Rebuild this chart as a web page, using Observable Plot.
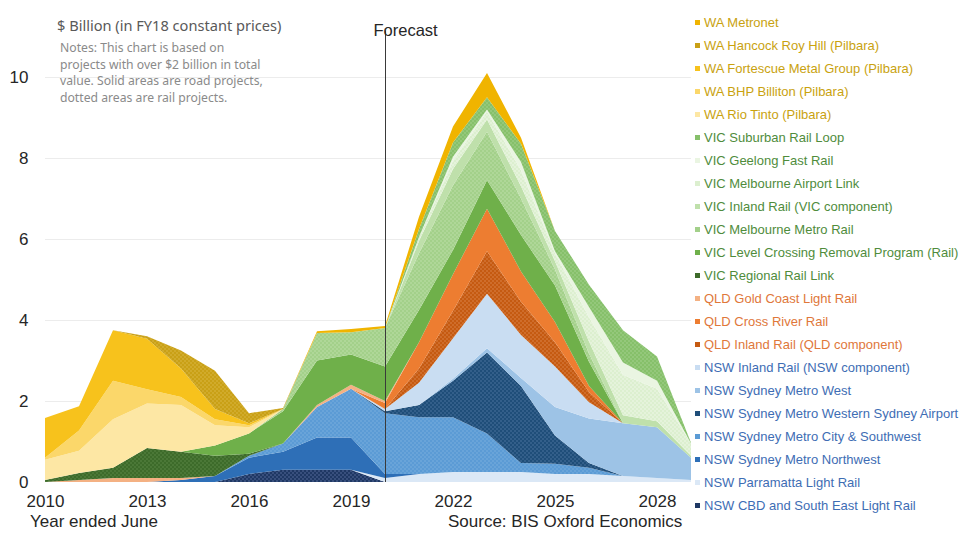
<!DOCTYPE html>
<html>
<head>
<meta charset="utf-8">
<script src="https://cdn.jsdelivr.net/npm/d3@7"></script>
<script src="https://cdn.jsdelivr.net/npm/@observablehq/plot@0.6"></script>
<style>
  body { margin: 0; background: #ffffff; }
  #wrap { position: relative; width: 966px; height: 535px; overflow: hidden; font-family: "Liberation Sans", Arial, sans-serif; }
  #wrap svg.plot { position: absolute; left: 0; top: 0; }
  .title { position: absolute; left: 57px; top: 15px; font-family: "Noto Sans", sans-serif; font-size: 14.6px; color: #595959; }
  .notes { position: absolute; left: 60px; top: 40px; font-family: "Noto Sans", sans-serif; font-size: 12.2px; line-height: 16.6px; color: #8a8a8a; }
  .foot { position: absolute; top: 512px; font-size: 17px; color: #262626; }
  .legend { position: absolute; left: 695px; top: 12px; font-size: 13px; }
  .legend div { height: 23px; line-height: 21px; white-space: nowrap; }
  .legend i { display: inline-block; width: 5px; height: 5px; margin-right: 4px; vertical-align: 2px; }
</style>
</head>
<body>
<div id="wrap"></div>
<script>
// Capital spending per project, $ billion (FY18 constant prices), year ended June
const years = [2010, 2011, 2012, 2013, 2014, 2015, 2016, 2017, 2018, 2019,
               2020, 2021, 2022, 2023, 2024, 2025, 2026, 2027, 2028, 2029];
const forecastStart = 2020;
const xTicks = [2010, 2013, 2016, 2019, 2022, 2025, 2028];
const yTicks = [0, 2, 4, 6, 8, 10];

// Series, bottom of the stack first
const nswCbd           = [0, 0, 0, 0, 0, 0, 0.2, 0.3, 0.3, 0.3, 0, 0, 0, 0, 0, 0, 0, 0, 0, 0];
const nswParramatta    = [0, 0, 0, 0, 0, 0, 0, 0, 0, 0, 0.1, 0.2, 0.25, 0.25, 0.25, 0.2, 0.2, 0.15, 0.1, 0.05];
const nswNorthwest     = [0, 0, 0, 0, 0.05, 0.15, 0.4, 0.45, 0.8, 0.8, 0.1, 0, 0, 0, 0, 0, 0, 0, 0, 0];
const nswCitySouthwest = [0, 0, 0, 0, 0, 0, 0.05, 0.2, 0.75, 1.2, 1.5, 1.4, 1.35, 0.95, 0.22, 0.25, 0.15, 0, 0, 0];
const nswWsAirport     = [0, 0, 0, 0, 0, 0, 0, 0, 0, 0, 0.05, 0.3, 0.9, 2.0, 1.9, 0.7, 0.12, 0, 0, 0];
const nswMetroWest     = [0, 0, 0, 0, 0, 0, 0, 0, 0, 0, 0, 0, 0.05, 0.1, 0.2, 0.7, 1.1, 1.3, 1.25, 0.55];
const nswInland        = [0, 0, 0, 0, 0, 0, 0, 0, 0, 0, 0.05, 0.55, 1.0, 1.35, 1.06, 1.0, 0.4, 0, 0, 0];
const qldInland        = [0, 0, 0, 0, 0, 0, 0, 0, 0, 0, 0, 0.35, 0.68, 1.05, 0.82, 0.6, 0.25, 0, 0, 0];
const qldCrossRiver    = [0, 0, 0, 0, 0, 0, 0, 0, 0, 0, 0.15, 0.65, 0.9, 1.05, 0.75, 0.5, 0.15, 0, 0, 0];
const qldGoldCoast     = [0, 0.05, 0.1, 0.1, 0.05, 0, 0, 0, 0.05, 0.1, 0.05, 0, 0, 0, 0, 0, 0, 0, 0, 0];
const vicRegionalLink  = [0.05, 0.17, 0.25, 0.74, 0.65, 0.5, 0.05, 0, 0, 0, 0, 0, 0, 0, 0, 0, 0, 0, 0, 0];
const vicLevelCrossing = [0, 0, 0, 0, 0, 0.25, 0.5, 0.8, 1.1, 0.75, 0.85, 0.8, 0.6, 0.7, 0.9, 0.9, 0.6, 0, 0, 0];
const vicMetroRail     = [0, 0, 0, 0, 0, 0, 0, 0.05, 0.68, 0.55, 0.95, 1.4, 1.6, 1.2, 0.9, 0.4, 0.2, 0, 0, 0];
const vicInland        = [0, 0, 0, 0, 0, 0, 0, 0, 0, 0, 0, 0.3, 0.4, 0.3, 0.3, 0.2, 0.3, 0.2, 0.15, 0.05];
const vicAirportLink   = [0, 0, 0, 0, 0, 0, 0, 0, 0, 0, 0, 0.1, 0.2, 0.2, 0.4, 0.2, 0.6, 1.0, 0.8, 0.3];
const vicGeelong       = [0, 0, 0, 0, 0, 0, 0, 0, 0, 0, 0, 0, 0.1, 0.05, 0.2, 0.05, 0.25, 0.3, 0.2, 0];
const vicSuburbanLoop  = [0, 0, 0, 0, 0, 0, 0, 0, 0, 0, 0, 0.2, 0.35, 0.3, 0.45, 0.5, 0.55, 0.8, 0.6, 0.02];
const waRioTinto       = [0.5, 0.55, 1.2, 1.1, 1.15, 0.5, 0.15, 0, 0, 0, 0, 0, 0, 0, 0, 0, 0, 0, 0, 0];
const waBhp            = [0.05, 0.5, 0.95, 0.35, 0.2, 0.15, 0.05, 0, 0, 0, 0, 0, 0, 0, 0, 0, 0, 0, 0, 0];
const waFortescue      = [0.98, 0.6, 1.25, 1.25, 0.7, 0.25, 0.05, 0, 0, 0, 0, 0, 0, 0, 0, 0, 0, 0, 0, 0];
const waRoyHill        = [0, 0, 0, 0.06, 0.45, 0.95, 0.25, 0.03, 0, 0, 0, 0, 0, 0, 0, 0, 0, 0, 0, 0];
const waMetronet       = [0, 0, 0, 0, 0, 0, 0, 0, 0.04, 0.08, 0.05, 0.3, 0.4, 0.6, 0.15, 0, 0, 0, 0, 0];

const seriesNames = [
  "NSW CBD and South East Light Rail",
  "NSW Parramatta Light Rail",
  "NSW Sydney Metro Northwest",
  "NSW Sydney Metro City & Southwest",
  "NSW Sydney Metro Western Sydney Airport",
  "NSW Sydney Metro West",
  "NSW Inland Rail (NSW component)",
  "QLD Inland Rail (QLD component)",
  "QLD Cross River Rail",
  "QLD Gold Coast Light Rail",
  "VIC Regional Rail Link",
  "VIC Level Crossing Removal Program (Rail)",
  "VIC Melbourne Metro Rail",
  "VIC Inland Rail (VIC component)",
  "VIC Melbourne Airport Link",
  "VIC Geelong Fast Rail",
  "VIC Suburban Rail Loop",
  "WA Rio Tinto (Pilbara)",
  "WA BHP Billiton (Pilbara)",
  "WA Fortescue Metal Group (Pilbara)",
  "WA Hancock Roy Hill (Pilbara)",
  "WA Metronet"
];
const seriesValues = [
  nswCbd, nswParramatta, nswNorthwest, nswCitySouthwest, nswWsAirport, nswMetroWest, nswInland,
  qldInland, qldCrossRiver, qldGoldCoast,
  vicRegionalLink, vicLevelCrossing, vicMetroRail, vicInland, vicAirportLink, vicGeelong, vicSuburbanLoop,
  waRioTinto, waBhp, waFortescue, waRoyHill, waMetronet
];

// Fill colour per series, and the dot colour for the stippled (rail) fills
const baseColors = [
  "#1f3864", "#dbe8f6", "#2e6fb7", "#5b9bd5", "#1f4e79", "#9dc3e6", "#c9ddf2",
  "#c55a11", "#ed7d31", "#f4b183",
  "#3d6b2a", "#6fb04a", "#a3d08a", "#bfe0ab", "#dcefcf", "#eaf5e2", "#86c06a",
  "#fde7a4", "#fbd76a", "#f7c21c", "#c9a016", "#f0b400"
];
const dotColors = [
  "#5c72a3", null, null, "#7fb2e0", "#4f78a3", null, null,
  "#e08a52", null, null,
  "#5f8c4a", null, "#c2e2ad", null, "#f4faef", null, "#a9d595",
  null, null, null, "#ddbb4a", null
];
const stateText = { NSW: "#3e6db4", QLD: "#e0773a", VIC: "#4f8c3c", WA: "#c9a20f" };

// Stippled fills live in a shared defs block
const defs = d3.select("body").append("svg")
  .attr("width", 0).attr("height", 0)
  .style("position", "absolute").style("left", "0").style("top", "0")
  .append("defs");
const fills = baseColors.map((c, i) => {
  if (!dotColors[i]) return c;
  const id = "stipple-" + i;
  const p = defs.append("pattern").attr("id", id)
    .attr("patternUnits", "userSpaceOnUse").attr("width", 4).attr("height", 4);
  p.append("rect").attr("width", 4).attr("height", 4).attr("fill", c);
  p.append("circle").attr("cx", 1).attr("cy", 1).attr("r", 0.75).attr("fill", dotColors[i]);
  p.append("circle").attr("cx", 3).attr("cy", 3).attr("r", 0.75).attr("fill", dotColors[i]);
  return `url(#${id})`;
});

const rows = seriesNames.flatMap((name, i) =>
  years.map((year, j) => ({series: name, year, value: seriesValues[i][j]})));

const chart = Plot.plot({
  width: 966,
  height: 535,
  marginLeft: 45,
  marginRight: 275,
  marginTop: 36.5,
  marginBottom: 53,
  style: {fontFamily: "'Liberation Sans', Arial, sans-serif", fontSize: "17px", color: "#262626", background: "transparent"},
  x: {domain: [2010, 2029], ticks: xTicks, tickFormat: d => String(d), tickSize: 0, tickPadding: 12, label: null},
  y: {domain: [0, 11], ticks: yTicks, tickSize: 0, tickPadding: 17, label: null},
  color: {domain: seriesNames, range: fills},
  marks: [
    Plot.ruleY(yTicks.filter(d => d > 0), {stroke: "#ececec"}),
    Plot.areaY(rows, {x: "year", y: "value", z: "series", fill: "series"}),
    Plot.ruleX([forecastStart], {y1: 0, y2: 11.15, stroke: "#3a3a3a", strokeWidth: 1}),
    Plot.text(["Forecast"], {x: forecastStart, y: 11.15, dx: -12, textAnchor: "start", fontSize: 16.5, fill: "#262626"})
  ]
});

const wrap = document.getElementById("wrap");
wrap.appendChild(chart);

const title = document.createElement("div");
title.className = "title";
title.textContent = "$ Billion (in FY18 constant prices)";
wrap.appendChild(title);

const notes = document.createElement("div");
notes.className = "notes";
notes.innerHTML = "Notes: This chart is based on<br>projects with over $2 billion in total<br>value. Solid areas are road projects,<br>dotted areas are rail projects.";
wrap.appendChild(notes);

const xLabel = document.createElement("div");
xLabel.className = "foot";
xLabel.style.left = "30px";
xLabel.textContent = "Year ended June";
wrap.appendChild(xLabel);

const source = document.createElement("div");
source.className = "foot";
source.style.left = "448px";
source.textContent = "Source: BIS Oxford Economics";
wrap.appendChild(source);

// Legend lists the stack from top to bottom
const legend = document.createElement("div");
legend.className = "legend";
seriesNames.map((name, i) => i).reverse().forEach(i => {
  const name = seriesNames[i];
  const row = document.createElement("div");
  row.style.color = stateText[name.split(" ")[0]];
  const sw = document.createElement("i");
  sw.style.background = baseColors[i];
  row.appendChild(sw);
  row.appendChild(document.createTextNode(name));
  legend.appendChild(row);
});
wrap.appendChild(legend);
</script>
</body>
</html>
